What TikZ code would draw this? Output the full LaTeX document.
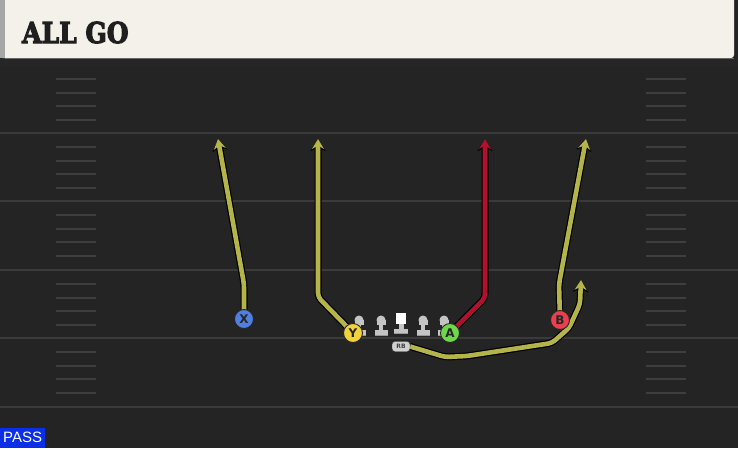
\documentclass[tikz,border=0pt]{standalone}
\usepackage{fontspec}
\setmainfont{DejaVu Serif}
\newfontfamily\sansf{DejaVu Sans}
\newfontfamily\passf{Liberation Sans}
\newfontfamily\titlef[FakeBold=4]{DejaVu Serif Bold}
\usetikzlibrary{arrows.meta}
\definecolor{fieldbg}{HTML}{242424}
\definecolor{fieldline}{HTML}{3A3A3A}
\definecolor{hashc}{HTML}{3E3E3E}
\definecolor{titlebg}{HTML}{F4F1EA}
\definecolor{routey}{HTML}{B4B44A}
\definecolor{router}{HTML}{B0122E}
\definecolor{pblue}{HTML}{4F7FE0}
\definecolor{pyellow}{HTML}{F2D23A}
\definecolor{pgreen}{HTML}{6CD84A}
\definecolor{pred}{HTML}{E8404C}
\definecolor{olgray}{HTML}{C4C4C4}
\definecolor{passblue}{HTML}{0B2FE6}
\tikzset{
  route/.style={line width=4.6pt, line join=round, rounded corners=4pt,
    -{Stealth[length=10pt,width=12pt,inset=3.5pt]},
    preaction={draw=black, line width=7pt, line join=round, rounded corners=4pt,
      -{Stealth[length=12pt,width=15pt,inset=3.5pt]}}},
  player/.style={circle, draw=black!85, line width=0.9pt, minimum size=19pt, inner sep=0pt,
    font=\sansf\bfseries\fontsize{12}{12}\selectfont, text=black!85},
  rbbox/.style={draw=black!80, fill=olgray!80, rounded corners=3pt, minimum width=18pt, minimum height=10pt, inner sep=0pt,
    font=\sansf\bfseries\fontsize{6}{6}\selectfont, text=black!75},
  hashmark/.style={draw=hashc, line width=2pt},
  yardline/.style={draw=fieldline, line width=1.8pt},
}
\begin{document}
\begin{tikzpicture}[x=1pt,y=-1pt]
\useasboundingbox (0,0) rectangle (738,448);
% field
\fill[fieldbg] (0,0) rectangle (738,448);
\fill[black!85] (0,58) rectangle (738,66);
% yard lines
\foreach \yy in {133,201,270,338,407} {
  \draw[yardline] (0,\yy) -- (738,\yy);
}
% hash marks
\foreach \yy in {65,133,201,270,338} {
  \foreach \dd in {14,28,41,55} {
    \draw[hashmark] (56,\yy+\dd) -- (96,\yy+\dd);
    \draw[hashmark] (646,\yy+\dd) -- (686,\yy+\dd);
  }
}
% title bar
\fill[titlebg, rounded corners=3pt] (0,-4) rectangle (734,58);
\fill[black!35] (0,0) rectangle (5,58);
\draw[black!60, line width=0.8pt] (5,58) -- (734,58);
\node[anchor=base west, inner sep=0pt, font=\titlef\fontsize{25}{25}\selectfont, text=black!88, xscale=1.0, yscale=1.15] (title) at (22,43) {ALL GO};
% offensive line
\foreach \xx in {359,381,423,444} {
  \fill[olgray] (\xx-4.5,320) rectangle (\xx+4.5,325);
  \fill[olgray] (\xx,320) circle (4.5pt);
  \fill[olgray] (\xx-2,325) rectangle (\xx+2,330);
  \fill[olgray] (\xx-6.5,330) rectangle (\xx+6.5,336);
  \fill[black!40] (\xx-6.5,334.5) rectangle (\xx+6.5,336);
}
\fill[white] (396,313) rectangle (406,324);
\fill[olgray] (398.5,324) rectangle (403.5,330);
\fill[olgray] (394,329) rectangle (408,334);
\fill[black!40] (394,332.5) rectangle (408,334);
% running back
\node[rbbox] (RB) at (401,346.5) {RB};
% coordinates for routes
\coordinate (X) at (244,319);
\coordinate (Y) at (353,333);
\coordinate (A) at (450,333);
\coordinate (B) at (560,320);
\coordinate (xb) at (244,284);
\coordinate (xe) at (218,139);
\coordinate (yb) at (318,297);
\coordinate (ye) at (318,139);
\coordinate (ab) at (485,298);
\coordinate (ae) at (485,139);
\coordinate (bb) at (559,284);
\coordinate (be) at (586,139);
\coordinate (r1) at (445,357);
\coordinate (r2) at (467,356);
\coordinate (r3) at (552,343);
\coordinate (r4) at (569,328);
\coordinate (r5) at (580,304);
\coordinate (re) at (581,280);
% routes
\draw[route, draw=routey] (X) -- (xb) -- (xe);
\draw[route, draw=routey] (Y) -- (yb) -- (ye);
\draw[route, draw=router] (A) -- (ab) -- (ae);
\draw[route, draw=routey] (B) -- (bb) -- (be);
\draw[route, draw=routey] (RB.east) -- (r1) -- (r2) -- (r3) -- (r4) -- (r5) -- (re);
\node[rbbox] at (RB) {RB};
% players
\node[player, fill=pblue] (Xp) at (X) {X};
\node[player, fill=pyellow] (Yp) at (Y) {Y};
\node[player, fill=pgreen] (Ap) at (A) {A};
\node[player, fill=pred] (Bp) at (B) {B};
% pass label
\node[fill=passblue, anchor=south west, minimum width=45pt, minimum height=20pt, inner sep=0pt,
  font=\passf\fontsize{15}{15}\selectfont, text=white] (pass) at (0,448) {PASS};
\end{tikzpicture}
\end{document}
